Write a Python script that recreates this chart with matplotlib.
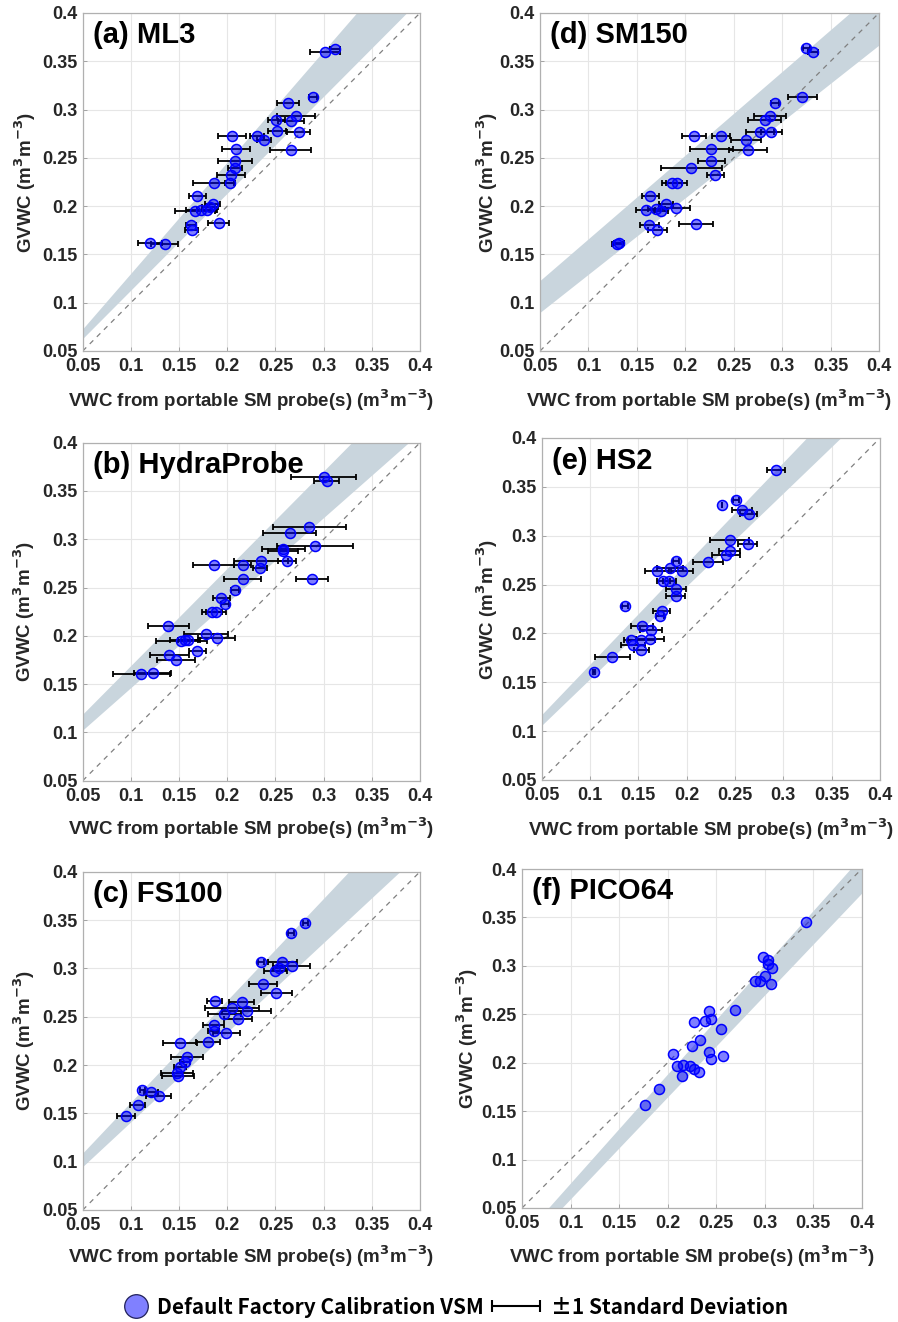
import matplotlib
matplotlib.use("Agg")
import matplotlib.pyplot as plt
from matplotlib.lines import Line2D
from matplotlib.container import ErrorbarContainer
from matplotlib.legend_handler import HandlerErrorbar
import numpy as np

plt.rcParams['font.family'] = ['Liberation Sans', 'DejaVu Sans']

W, H = 898, 1322

# (a) ML3
ml3_x = [0.301, 0.312, 0.289, 0.263, 0.271, 0.251, 0.266, 0.252, 0.274, 0.205,
         0.231, 0.238, 0.209, 0.266, 0.208, 0.208, 0.204, 0.203, 0.186, 0.169,
         0.185, 0.167, 0.173, 0.179, 0.182, 0.191, 0.162, 0.163, 0.120, 0.135]
ml3_y = [0.360, 0.363, 0.313, 0.307, 0.293, 0.289, 0.288, 0.278, 0.277, 0.273,
         0.273, 0.269, 0.259, 0.258, 0.247, 0.239, 0.232, 0.224, 0.224, 0.210,
         0.202, 0.195, 0.196, 0.196, 0.199, 0.183, 0.180, 0.175, 0.162, 0.161]
ml3_err = [0.0156, 0.0052, 0.004, 0.0114, 0.0197, 0.0086, 0.0138, 0.0093, 0.0121, 0.0149,
           0.0069, 0.0073, 0.0145, 0.0214, 0.0176, 0.0073, 0.0142, 0.0052, 0.0214, 0.009,
           0.0076, 0.0208, 0.0156, 0.0104, 0.0086, 0.0107, 0.0052, 0.0069, 0.0121, 0.0138]

# (b) HydraProbe
hp_x = [0.300, 0.303, 0.285, 0.265, 0.291, 0.258, 0.258, 0.235, 0.262, 0.186,
        0.216, 0.234, 0.288, 0.216, 0.208, 0.194, 0.198, 0.184, 0.188, 0.139,
        0.178, 0.189, 0.1525, 0.156, 0.159, 0.169, 0.140, 0.147, 0.111, 0.1225]
hp_y = [0.364, 0.360, 0.313, 0.307, 0.293, 0.2895, 0.2875, 0.278, 0.2775, 0.273,
        0.273, 0.270, 0.2585, 0.259, 0.247, 0.2395, 0.233, 0.225, 0.225, 0.2105,
        0.202, 0.198, 0.195, 0.196, 0.196, 0.184, 0.180, 0.1755, 0.161, 0.162]
hp_err = [0.0335, 0.0128, 0.038, 0.0276, 0.0397, 0.0224, 0.0155, 0.0276, 0.0093, 0.0211,
          0.009, 0.0069, 0.0166, 0.0193, 0.0041, 0.0093, 0.0041, 0.0104, 0.0104, 0.0214,
          0.0231, 0.019, 0.0266, 0.0155, 0.0104, 0.009, 0.02, 0.02, 0.0293, 0.019]

# (c) FS100
fs_x = [0.281, 0.266, 0.235, 0.257, 0.267, 0.2535, 0.250, 0.237, 0.251, 0.187,
        0.215, 0.205, 0.220, 0.197, 0.211, 0.186, 0.186, 0.199, 0.180, 0.151,
        0.1586, 0.156, 0.151, 0.148, 0.149, 0.112, 0.121, 0.129, 0.107, 0.095]
fs_y = [0.3466, 0.337, 0.307, 0.307, 0.302, 0.300, 0.2976, 0.284, 0.274, 0.266,
        0.265, 0.2586, 0.256, 0.2524, 0.2476, 0.2414, 0.2355, 0.2334, 0.224, 0.2224,
        0.2086, 0.2034, 0.1983, 0.1914, 0.189, 0.174, 0.1724, 0.168, 0.159, 0.147]
fs_err = [0.0028, 0.0028, 0.0028, 0.0152, 0.0193, 0.0062, 0.0121, 0.0145, 0.0162, 0.0076,
          0.0131, 0.0276, 0.0255, 0.0172, 0.0145, 0.011, 0.0059, 0.0138, 0.0124, 0.0179,
          0.0166, 0.0055, 0.0062, 0.0166, 0.0166, 0.0028, 0.0069, 0.0131, 0.0079, 0.009]

# (d) SM150
sm_x = [0.325, 0.332, 0.321, 0.293, 0.2875, 0.282, 0.277, 0.289, 0.209, 0.237,
        0.263, 0.227, 0.265, 0.227, 0.206, 0.231, 0.186, 0.191, 0.164, 0.180,
        0.159, 0.170, 0.175, 0.190, 0.211, 0.163, 0.171, 0.130, 0.132]
sm_y = [0.364, 0.360, 0.3125, 0.307, 0.293, 0.289, 0.277, 0.277, 0.273, 0.273,
        0.269, 0.259, 0.258, 0.2465, 0.239, 0.232, 0.224, 0.224, 0.210, 0.202,
        0.196, 0.197, 0.195, 0.198, 0.182, 0.180, 0.175, 0.1605, 0.162]
sm_err = [0.0035, 0.0052, 0.0149, 0.0041, 0.0166, 0.0173, 0.0145, 0.0107, 0.0128, 0.0093,
          0.0156, 0.0225, 0.0194, 0.0135, 0.0315, 0.0086, 0.0104, 0.0104, 0.009, 0.0069,
          0.0097, 0.0086, 0.0069, 0.0149, 0.0173, 0.0097, 0.0097, 0.0052, 0.0052]

# (e) HS2
hs_x = [0.292, 0.251, 0.237, 0.257, 0.264, 0.2445, 0.263, 0.2445, 0.241, 0.222,
        0.189, 0.183, 0.169, 0.195, 0.176, 0.182, 0.1886, 0.1886, 0.136, 0.174,
        0.172, 0.154, 0.163, 0.142, 0.153, 0.162, 0.144, 0.153, 0.123, 0.104]
hs_y = [0.3675, 0.337, 0.3315, 0.326, 0.322, 0.2955, 0.292, 0.2845, 0.280, 0.2735,
        0.274, 0.267, 0.264, 0.264, 0.254, 0.254, 0.245, 0.2385, 0.228, 0.223,
        0.2175, 0.208, 0.204, 0.193, 0.1935, 0.1945, 0.188, 0.183, 0.176, 0.1603]
hs_err = [0.0093, 0.0034, 0.0, 0.0103, 0.0086, 0.0203, 0.0097, 0.011, 0.0145, 0.0152,
          0.0028, 0.0134, 0.0124, 0.0114, 0.0069, 0.0069, 0.0103, 0.01, 0.0034, 0.0086,
          0.0041, 0.0114, 0.0114, 0.0069, 0.0138, 0.0145, 0.0124, 0.0076, 0.0179, 0.001]

# (f) PICO64 (no error bars)
pico_x = [0.343, 0.298, 0.303, 0.303, 0.308, 0.300, 0.290, 0.295, 0.307, 0.243,
          0.269, 0.2445, 0.239, 0.227, 0.255, 0.233, 0.2255, 0.2055, 0.243, 0.245,
          0.257, 0.210, 0.216, 0.223, 0.227, 0.232, 0.215, 0.191, 0.177]
pico_y = [0.345, 0.309, 0.306, 0.302, 0.298, 0.290, 0.2845, 0.2845, 0.281, 0.253,
          0.254, 0.2455, 0.243, 0.242, 0.235, 0.223, 0.217, 0.209, 0.211, 0.204,
          0.207, 0.197, 0.198, 0.1966, 0.194, 0.190, 0.186, 0.173, 0.156]

# shaded band edges: (value at x=0.05, slope)
band_upper = {'a': (0.073, 1.151), 'b': (0.119, 1.007), 'c': (0.109, 1.054),
              'd': (0.123, 0.866), 'e': (0.117, 1.033), 'f': (0.0196, 1.125)}
band_lower = {'a': (0.063, 1.003), 'b': (0.1025, 0.880), 'c': (0.095, 0.927),
              'd': (0.090, 0.791), 'e': (0.106, 0.951), 'f': (0.0069, 1.052)}

# key, title, x, y, xerr, pixel box, ylabel x, xlabel y
panels = [
    ('a', '(a) ML3', ml3_x, ml3_y, ml3_err, (82.7, 13, 420, 351), -0.133, -0.108),
    ('b', '(b) HydraProbe', hp_x, hp_y, hp_err, (82.7, 442.7, 420, 780.7), -0.136, -0.104),
    ('c', '(c) FS100', fs_x, fs_y, fs_err, (82.7, 871.7, 420, 1210), -0.136, -0.098),
    ('d', '(d) SM150', sm_x, sm_y, sm_err, (540, 13, 879, 351), -0.118, -0.108),
    ('e', '(e) HS2', hs_x, hs_y, hs_err, (541.7, 438, 880, 780), -0.123, -0.106),
    ('f', '(f) PICO64', pico_x, pico_y, None, (522, 869, 861.7, 1208), -0.124, -0.104),
]

ticks = [0.05, 0.1, 0.15, 0.2, 0.25, 0.3, 0.35, 0.4]
tick_labels = ['0.05', '0.1', '0.15', '0.2', '0.25', '0.3', '0.35', '0.4']

fig = plt.figure(figsize=(W / 100, H / 100), dpi=100)

for key, title, x, y, err, box, ylab_x, xlab_y in panels:
    x0, y0, x1, y1 = box
    ax = fig.add_axes([x0 / W, 1 - y1 / H, (x1 - x0) / W, (y1 - y0) / H])

    xx = np.linspace(0.05, 0.4, 200)
    up = band_upper[key][0] + band_upper[key][1] * (xx - 0.05)
    lo = band_lower[key][0] + band_lower[key][1] * (xx - 0.05)
    ax.fill_between(xx, lo, up, color='#c9d5dd', lw=0, zorder=1)
    ax.plot([0.05, 0.4], [0.05, 0.4], ls=(0, (4, 4)), color='#808080', lw=0.9, zorder=2)

    if err is not None:
        ax.errorbar(x, y, xerr=err, fmt='none', ecolor='black', elinewidth=1.3,
                    capsize=2.2, capthick=1.3, zorder=3)
    ax.plot(x, y, 'o', ms=7.2, mfc=(0, 0, 1, 0.5), mec='#0000ff', mew=1.1,
            ls='none', zorder=4)

    ax.set_xlim(0.05, 0.4)
    ax.set_ylim(0.05, 0.4)
    ax.set_xticks(ticks)
    ax.set_yticks(ticks)
    ax.set_xticklabels(tick_labels, fontsize=13, fontweight='bold', color='#262626')
    ax.set_yticklabels(tick_labels, fontsize=13, fontweight='bold', color='#262626')
    ax.tick_params(direction='in', length=3, width=0.6, color='#999999')
    ax.tick_params(axis='x', pad=5)
    ax.tick_params(axis='y', pad=4)
    ax.grid(True, color='#e6e6e6', lw=0.8, zorder=0)
    ax.set_axisbelow(True)
    for s in ax.spines.values():
        s.set_color('#b0b0b0')
        s.set_linewidth(0.9)

    ax.set_xlabel('VWC from portable SM probe(s) (m$^\\mathbf{3}$m$^\\mathbf{-3}$)',
                  fontsize=13.5, fontweight='bold', color='#262626')
    ax.xaxis.set_label_coords(0.5, xlab_y)
    ax.set_ylabel('GVWC (m$^\\mathbf{3}$m$^\\mathbf{-3}$)', fontsize=13.5,
                  fontweight='bold', color='#262626')
    ax.yaxis.set_label_coords(ylab_x, 0.5)

    ax.text(0.03, 0.975, title, transform=ax.transAxes, fontsize=21,
            fontweight='bold', va='top', ha='left', zorder=5)

# legend at the bottom, two pieces so each handle gets its own length
leg_font = {'family': ['Noto Sans CJK KR', 'DejaVu Sans'], 'size': 15, 'weight': 'bold'}
circle = Line2D([], [], marker='o', ls='none', ms=17, mfc='#8080ff', mec='#20205a', mew=0.9)
eb = fig.axes[0].errorbar([np.nan], [np.nan], xerr=[0.01], fmt='none', ecolor='black',
                          elinewidth=1.5, capsize=4, capthick=1.5)
leg1 = fig.legend([circle], ['Default Factory Calibration VSM'], loc='center left',
                  bbox_to_anchor=(125 / W, 1 - 1307 / H), frameon=False,
                  borderpad=0, borderaxespad=0, handlelength=1.1, handletextpad=0.45,
                  prop=leg_font)
fig.legend([eb], ['\u00b11 Standard Deviation'], loc='center left',
           bbox_to_anchor=(492 / W, 1 - 1307 / H), frameon=False,
           borderpad=0, borderaxespad=0, handlelength=2.3, handletextpad=0.55,
           handler_map={ErrorbarContainer: HandlerErrorbar(xerr_size=1.15)},
           prop=leg_font)

fig.savefig('out.png', dpi=100)
